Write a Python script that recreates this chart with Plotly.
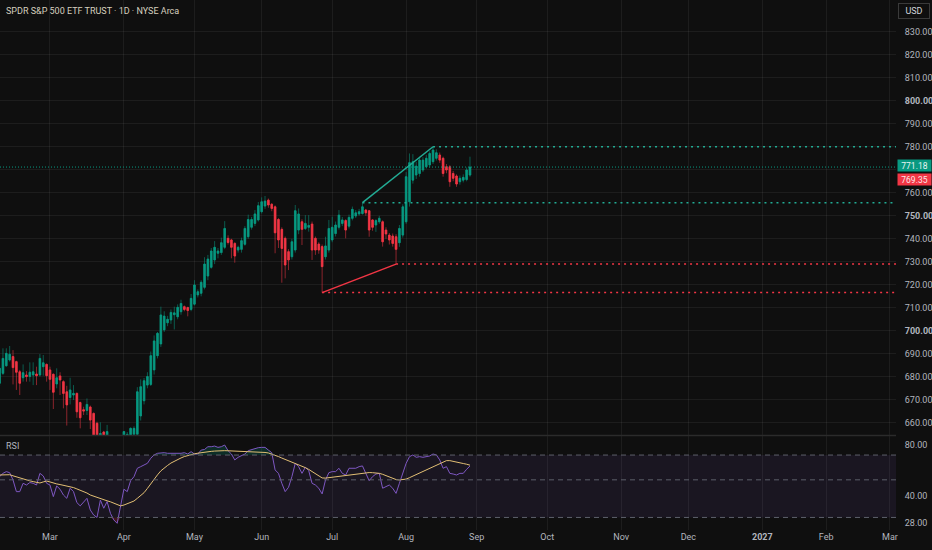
import plotly.graph_objects as go
import pandas as pd
import numpy as np

# exchange holidays (no bars) between Feb 2026 and Mar 2027
holidays = ["2026-02-16", "2026-04-03", "2026-05-25", "2026-06-19", "2026-07-03",
            "2026-09-07", "2026-11-26", "2026-12-25", "2027-01-01", "2027-01-18", "2027-02-15"]

# daily bars, 2026-02-06 .. 2026-08-28
dates = [d for d in pd.bdate_range("2026-02-06", "2026-08-28") if d.strftime("%Y-%m-%d") not in holidays]

opens = [677.2, 681.5, 684.8, 687.3, 688.8, 686.6, 682.2, 679.6, 680.8, 680.1, 680.8, 681.2, 680.8, 684.4, 685.4,
         683.0, 681.1, 676.9, 680.4, 677.9, 673.5, 671.0, 672.1, 672.8, 668.8, 665.7, 665.4, 666.9, 664.1, 659.8,
         648.0, 656.0, 650.0, 652.0, 643.0, 646.0, 640.0, 650.0, 652.0, 654.0, 655.0, 655.0, 663.0, 669.6, 676.4,
         676.7, 683.0, 689.2, 694.3, 700.4, 703.5, 704.7, 707.0, 706.1, 708.3, 710.5, 710.1, 709.3, 711.6, 715.6,
         716.3, 718.9, 723.8, 727.6, 730.8, 733.7, 734.0, 736.3, 740.2, 739.5, 738.0, 735.1, 735.4, 737.6, 740.9,
         745.0, 746.7, 748.2, 751.8, 754.2, 756.8, 755.0, 753.9, 748.4, 744.1, 740.2, 734.4, 732.2, 735.1, 743.8,
         747.4, 744.5, 745.0, 746.4, 740.2, 737.7, 736.6, 732.2, 735.1, 739.5, 742.3, 745.0, 746.7, 747.9, 745.5,
         748.9, 749.9, 750.8, 751.0, 752.5, 752.2, 748.2, 746.0, 747.4, 747.4, 743.8, 741.6, 741.2, 740.9, 738.3,
         741.6, 747.4, 756.1, 765.5, 767.7, 768.4, 769.9, 771.3, 772.1, 773.5, 775.0, 776.4, 775.0, 771.3, 771.3,
         768.4, 767.3, 764.8, 765.5, 765.8, 767.7]
highs = [685.0, 692.4, 692.4, 693.4, 691.6, 687.0, 683.0, 685.4, 682.5, 686.3, 686.3, 684.4, 689.9, 689.5, 685.8,
         684.4, 681.5, 683.7, 682.0, 678.5, 676.1, 679.6, 676.4, 673.2, 669.2, 667.0, 670.6, 667.5, 664.5, 660.5,
         660.2, 656.5, 659.1, 654.0, 648.0, 650.0, 651.0, 656.5, 656.0, 658.0, 658.5, 675.5, 678.9, 679.5, 682.0,
         691.0, 698.0, 699.5, 710.5, 708.5, 706.5, 709.3, 710.5, 711.5, 713.5, 711.0, 710.5, 716.0, 722.0, 718.0,
         722.0, 732.0, 733.0, 736.0, 739.0, 736.0, 740.5, 747.7, 741.5, 740.0, 738.5, 737.0, 740.5, 745.5, 750.5,
         749.5, 752.5, 756.0, 758.0, 758.6, 757.5, 755.5, 754.5, 749.0, 745.0, 741.0, 735.5, 740.0, 754.7, 753.2,
         748.5, 750.3, 750.3, 747.5, 741.0, 738.5, 737.5, 740.9, 748.2, 749.6, 747.5, 752.5, 749.5, 748.5, 750.5,
         754.0, 752.5, 753.0, 755.7, 753.0, 752.5, 748.5, 748.5, 750.0, 748.0, 745.0, 742.5, 742.3, 742.0, 746.0,
         755.0, 769.0, 777.1, 776.8, 773.5, 775.7, 775.5, 776.5, 778.0, 780.0, 778.9, 777.5, 775.7, 772.5, 772.0,
         769.5, 768.0, 767.5, 768.0, 771.0, 775.7]
lows = [676.0, 680.8, 684.4, 686.6, 676.7, 674.3, 672.1, 677.9, 677.9, 677.9, 676.4, 676.4, 680.1, 680.5, 677.9,
        674.3, 666.0, 675.0, 672.1, 666.3, 658.8, 668.0, 669.9, 662.2, 657.6, 663.4, 663.4, 657.3, 648.0, 646.0,
        645.0, 647.0, 646.0, 641.0, 637.0, 636.0, 639.0, 648.0, 650.0, 652.0, 653.0, 653.0, 661.0, 668.0, 675.0,
        676.0, 681.0, 688.0, 693.0, 699.5, 702.0, 703.0, 700.6, 705.0, 707.0, 708.5, 706.3, 708.5, 711.0, 714.5,
        715.0, 718.0, 722.0, 727.0, 729.0, 731.5, 733.0, 735.5, 737.5, 731.5, 729.6, 734.0, 734.0, 737.0, 740.0,
        744.0, 745.5, 747.5, 751.0, 753.0, 753.5, 752.0, 733.7, 736.0, 720.9, 722.8, 726.4, 731.0, 734.0, 742.0,
        737.3, 743.8, 743.1, 730.8, 733.0, 733.5, 716.6, 731.0, 734.0, 738.5, 741.0, 744.0, 745.5, 740.2, 744.5,
        748.0, 749.0, 750.0, 750.5, 750.0, 740.9, 743.5, 743.0, 746.5, 736.6, 740.0, 737.5, 736.6, 729.0, 736.5,
        740.5, 746.5, 754.0, 764.0, 766.0, 767.0, 769.0, 770.5, 771.0, 772.5, 774.0, 773.0, 767.0, 768.5, 762.6,
        765.0, 762.6, 763.5, 764.5, 765.0, 767.0]
closes = [683.7, 688.0, 690.2, 689.8, 684.0, 682.0, 677.2, 681.8, 680.1, 682.0, 682.2, 680.5, 688.0, 686.1, 680.5,
          678.9, 673.3, 679.6, 678.6, 672.8, 667.8, 674.3, 672.8, 664.8, 662.2, 665.1, 668.0, 661.2, 652.0, 650.0,
          655.4, 652.0, 656.2, 643.0, 646.0, 638.0, 650.0, 656.2, 655.0, 657.6, 657.6, 673.5, 675.7, 678.3, 680.1,
          689.2, 695.6, 698.9, 706.9, 706.4, 705.0, 708.0, 707.8, 710.2, 711.9, 709.3, 708.8, 714.1, 719.9, 717.0,
          721.1, 729.0, 731.2, 734.7, 736.3, 734.7, 738.3, 744.5, 738.4, 736.3, 732.5, 736.3, 739.2, 744.5, 748.4,
          748.4, 750.8, 754.4, 756.1, 756.4, 754.7, 753.2, 742.6, 739.5, 735.8, 728.6, 730.8, 738.7, 752.2, 750.8,
          744.1, 746.7, 745.8, 735.1, 735.1, 735.1, 727.9, 736.9, 744.5, 745.0, 746.0, 750.3, 748.2, 743.8, 749.3,
          752.8, 751.3, 751.8, 753.9, 751.3, 743.8, 745.0, 747.9, 748.9, 738.7, 742.1, 739.5, 738.0, 735.4, 744.5,
          753.9, 767.0, 773.1, 773.5, 771.6, 774.2, 774.2, 775.0, 777.1, 778.6, 777.4, 774.2, 768.4, 769.9, 764.8,
          766.3, 763.8, 766.3, 766.7, 769.9, 771.18]

rsi = [52.2, 54.6, 55.9, 55.1, 49.9, 42.6, 42.6, 47.7, 46.6, 48.2, 47.7, 46.6, 54.6, 52.7, 47.7,
       46.6, 39.8, 46.0, 44.0, 40.7, 38.9, 44.6, 42.6, 36.7, 35.1, 37.2, 38.9, 33.2, 31.0, 30.0,
       38.0, 34.0, 37.2, 31.7, 29.0, 27.7, 35.5, 44.0, 42.6, 49.4, 52.2, 58.5, 59.8, 61.2, 62.6,
       67.0, 70.1, 71.7, 72.3, 72.3, 71.7, 71.7, 71.0, 71.7, 71.7, 72.3, 71.0, 73.3, 71.0, 71.0,
       74.9, 75.5, 78.4, 78.4, 79.1, 77.7, 78.4, 80.2, 74.3, 71.0, 65.5, 67.9, 69.8, 71.0, 74.3,
       75.5, 76.7, 77.4, 77.7, 77.7, 74.9, 72.3, 57.2, 54.6, 47.7, 42.6, 45.2, 52.2, 62.6, 59.8,
       54.6, 59.3, 56.7, 47.7, 46.6, 44.6, 41.3, 49.9, 55.1, 55.9, 55.9, 58.5, 54.6, 53.4, 58.5,
       58.5, 58.5, 59.8, 60.4, 54.6, 49.4, 52.2, 54.1, 54.6, 44.6, 45.6, 46.6, 44.6, 41.6, 47.7,
       54.6, 62.6, 68.5, 70.1, 67.9, 68.5, 67.9, 68.5, 69.1, 71.0, 70.1, 65.5, 58.5, 59.8, 54.6,
       54.1, 53.4, 54.6, 54.6, 57.7, 60.28]
rsi_ma = [53.4, 53.6, 53.8, 53.6, 52.8, 52.0, 51.1, 50.5, 50.0, 49.3, 48.8, 48.2, 47.9, 48.6, 49.2,
          48.6, 47.8, 47.3, 46.9, 46.5, 46.1, 45.6, 45.0, 44.2, 43.5, 42.6, 41.8, 40.7, 40.0, 39.3,
          38.6, 38.0, 37.6, 37.1, 36.4, 35.7, 35.1, 35.5, 36.2, 36.8, 37.5, 38.9, 40.4, 42.0, 44.5,
          47.5, 50.5, 53.5, 56.5, 58.8, 60.8, 62.8, 64.5, 66.0, 67.3, 68.6, 69.6, 70.6, 71.2, 71.8,
          72.4, 72.9, 73.3, 73.6, 73.9, 74.2, 74.3, 74.3, 74.2, 74.1, 74.0, 73.8, 73.7, 73.6, 73.5,
          73.4, 73.2, 73.0, 72.8, 72.5, 72.0, 71.0, 69.8, 68.6, 67.2, 66.0, 64.8, 63.6, 62.5, 61.5,
          60.4, 59.0, 57.6, 56.0, 54.4, 52.8, 51.3, 51.2, 51.5, 52.0, 52.3, 52.5, 52.6, 52.7, 53.0,
          53.4, 53.9, 54.4, 54.8, 55.1, 55.2, 55.1, 54.9, 54.6, 53.9, 53.0, 52.1, 51.1, 50.2, 49.9,
          50.1, 50.5, 51.5, 52.6, 53.8, 54.8, 56.2, 57.6, 58.7, 59.8, 61.3, 62.8, 63.9, 64.9, 64.9,
          64.4, 64.0, 63.2, 62.4, 61.8, 61.01]

# drawings: trend lines through swing points and the levels they leave behind
support_pivots = ["2026-06-26", "2026-07-29"]
resistance_pivots = ["2026-07-15", "2026-08-13"]
other_price = 769.35

# axis labels
month_ticks = ["2026-03-02", "2026-04-01", "2026-05-01", "2026-06-01", "2026-07-01", "2026-08-03", "2026-09-01",
               "2026-10-01", "2026-11-02", "2026-12-01", "2027-01-04", "2027-02-01", "2027-03-01"]
month_labels = ["Mar", "Apr", "May", "Jun", "Jul", "Aug", "Sep", "Oct", "Nov", "Dec", "<b>2027</b>", "Feb", "Mar"]
price_ticks = list(range(660, 840, 10))
rsi_ticks = [28, 40, 80]

BG = "#0f0f0f"
GRID = "rgba(255,255,255,0.06)"
TXT = "#b2b5be"
UP, DOWN = "#089981", "#f23645"
UP_WICK, DOWN_WICK = "rgba(8,153,129,0.55)", "rgba(242,54,69,0.55)"
FONT = "Roboto"
x_start, x_end = "2026-02-06 03:00", "2027-03-02 19:00"

low_by_date = dict(zip([d.strftime("%Y-%m-%d") for d in dates], lows))
high_by_date = dict(zip([d.strftime("%Y-%m-%d") for d in dates], highs))

fig = go.Figure()

# wicks (darker), then bright bodies on top
fig.add_trace(go.Candlestick(
    x=dates, open=opens, high=highs, low=lows, close=closes,
    increasing=dict(line=dict(color=UP_WICK, width=1), fillcolor=UP_WICK),
    decreasing=dict(line=dict(color=DOWN_WICK, width=1), fillcolor=DOWN_WICK),
    showlegend=False, hoverinfo="skip"))
fig.add_trace(go.Candlestick(
    x=dates, open=opens, close=closes,
    high=np.maximum(opens, closes), low=np.minimum(opens, closes),
    increasing=dict(line=dict(color=UP, width=0.5), fillcolor=UP),
    decreasing=dict(line=dict(color=DOWN, width=0.5), fillcolor=DOWN),
    showlegend=False))

# trend lines
fig.add_trace(go.Scatter(x=support_pivots, y=[low_by_date[d] for d in support_pivots], mode="lines",
                         line=dict(color=DOWN, width=1.5), showlegend=False, hoverinfo="skip"))
fig.add_trace(go.Scatter(x=resistance_pivots, y=[high_by_date[d] for d in resistance_pivots], mode="lines",
                         line=dict(color="#22ab94", width=1.5), showlegend=False, hoverinfo="skip"))

# dotted levels running to the right edge
for d in support_pivots:
    fig.add_trace(go.Scatter(x=[d, x_end], y=[low_by_date[d]] * 2, mode="lines",
                             line=dict(color=DOWN, width=1.5, dash="2px,4px"), showlegend=False, hoverinfo="skip"))
for d in resistance_pivots:
    fig.add_trace(go.Scatter(x=[d, x_end], y=[high_by_date[d]] * 2, mode="lines",
                             line=dict(color="#22ab94", width=1.5, dash="2px,4px"), showlegend=False, hoverinfo="skip"))

# RSI pane
fig.add_trace(go.Scatter(x=dates, y=[70] * len(dates), mode="lines", line=dict(width=0),
                         yaxis="y2", showlegend=False, hoverinfo="skip"))
fig.add_trace(go.Scatter(x=dates, y=np.maximum(rsi, 70), mode="lines", line=dict(width=0),
                         fill="tonexty", fillcolor="rgba(8,153,129,0.22)", yaxis="y2", showlegend=False, hoverinfo="skip"))
fig.add_trace(go.Scatter(x=dates, y=[30] * len(dates), mode="lines", line=dict(width=0),
                         yaxis="y2", showlegend=False, hoverinfo="skip"))
fig.add_trace(go.Scatter(x=dates, y=np.minimum(rsi, 30), mode="lines", line=dict(width=0),
                         fill="tonexty", fillcolor="rgba(242,54,69,0.22)", yaxis="y2", showlegend=False, hoverinfo="skip"))
fig.add_trace(go.Scatter(x=dates, y=rsi, mode="lines", line=dict(color="#7e57c2", width=1),
                         yaxis="y2", showlegend=False, name="RSI"))
fig.add_trace(go.Scatter(x=dates, y=rsi_ma, mode="lines", line=dict(color="#e2bf74", width=1),
                         yaxis="y2", showlegend=False, name="MA"))

shapes = [
    dict(type="rect", xref="paper", x0=0, x1=1, yref="y2", y0=30, y1=70,
         fillcolor="rgba(126,87,194,0.1)", line=dict(width=0), layer="below"),
    dict(type="line", xref="paper", x0=0, x1=1, yref="paper", y0=0.1783, y1=0.1783,
         line=dict(color="#2b2b2b", width=1.5)),
    dict(type="line", xref="paper", x0=0, x1=1, yref="y", y0=closes[-1], y1=closes[-1],
         line=dict(color=UP, width=1, dash="1px,2px")),
]
for lvl in [70, 50, 30]:
    shapes.append(dict(type="line", xref="paper", x0=0, x1=1, yref="y2", y0=lvl, y1=lvl,
                       line=dict(color="#5d606b", width=1, dash="5px,4px")))

# value boxes on the right scale
box = dict(xref="paper", x=1, xanchor="left", yanchor="middle", xshift=1, showarrow=False,
           width=33, height=11, borderpad=0)

annotations = [
    dict(text="SPDR S&P 500 ETF TRUST · 1D · NYSE Arca", xref="paper", yref="paper", x=0, y=1,
         xanchor="left", yanchor="middle", xshift=4, yshift=-11, showarrow=False,
         font=dict(family=FONT, size=9, color="#d6cfbf")),
    dict(text="RSI", xref="paper", yref="paper", x=0, y=0.1774, xanchor="left", yanchor="middle",
         xshift=4, yshift=-10, showarrow=False, font=dict(family=FONT, size=9, color=TXT)),
    dict(text="USD", xref="paper", yref="paper", x=1, y=1, xanchor="left", yanchor="top", xshift=2, yshift=-3,
         showarrow=False, bordercolor="#3a3a3a", borderwidth=1, borderpad=2, width=26, bgcolor=BG,
         font=dict(family=FONT, size=9, color="#d1d4dc")),
    dict(box, text=f"{closes[-1]:.2f}", yref="y", y=closes[-1], yshift=1.5, bgcolor=UP,
         font=dict(family=FONT, size=8.5, color="#e8f5f2")),
    dict(box, text=f"{other_price:.2f}", yref="y", y=other_price, yshift=-8, bgcolor=DOWN,
         font=dict(family=FONT, size=8.5, color="#fde7e9")),
    dict(box, text=f"{rsi_ma[-1]:.2f}", yref="y2", y=rsi_ma[-1], yshift=10, bgcolor="#ecc964",
         font=dict(family=FONT, size=8.5, color="#1a1a1a")),
    dict(box, text=f"{rsi[-1]:.2f}", yref="y2", y=rsi[-1], yshift=-1.5, bgcolor="#8a5c9f",
         font=dict(family=FONT, size=8.5, color="#eadcf2")),
]

# scale labels hidden behind the last-price boxes stay blank (grid line kept)
price_text = ["" if abs(p - closes[-1]) < 4 else (f"<b>{p:.2f}</b>" if p % 50 == 0 else f"{p:.2f}")
              for p in price_ticks]

fig.update_layout(
    width=932, height=550,
    margin=dict(l=0, r=36, t=0, b=20),
    paper_bgcolor=BG, plot_bgcolor=BG,
    showlegend=False,
    font=dict(family=FONT, size=9, color=TXT),
    xaxis=dict(type="date", range=[x_start, x_end], anchor="y2",
               rangebreaks=[dict(bounds=["sat", "mon"]), dict(values=holidays)],
               rangeslider=dict(visible=False),
               tickvals=month_ticks, ticktext=month_labels, tickfont=dict(size=9, color=TXT),
               showgrid=True, gridcolor=GRID, zeroline=False, showline=False, ticks=""),
    yaxis=dict(domain=[0.1792, 1], range=[654.7, 843.8], side="right", anchor="x",
               tickvals=price_ticks, ticktext=price_text, tickfont=dict(size=9, color=TXT),
               ticks="outside", ticklen=6, tickcolor="rgba(0,0,0,0)",
               showgrid=True, gridcolor=GRID, zeroline=False, showline=False),
    yaxis2=dict(domain=[0, 0.1774], type="log", range=[np.log10(25.3), np.log10(90.7)], side="right", anchor="x",
                tickvals=rsi_ticks, ticktext=[f"{v:.2f}" for v in rsi_ticks], tickfont=dict(size=9, color=TXT),
                ticks="outside", ticklen=6, tickcolor="rgba(0,0,0,0)",
                showgrid=False, zeroline=False, showline=False),
    shapes=shapes,
    annotations=annotations,
)

# drop the page's default body margin so the 932x550 figure fills the window
fig.write_html("out.html", config=dict(displayModeBar=False),
               post_script="document.body.style.margin='0';document.body.style.background='#0f0f0f';")
